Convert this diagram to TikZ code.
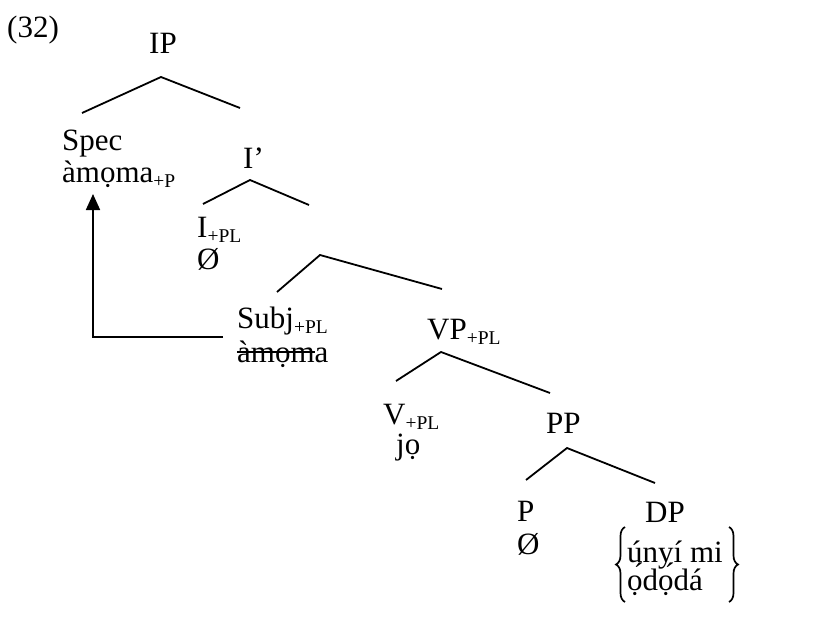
\documentclass[tikz,border=0pt]{standalone}
\usepackage{fontspec}
\setmainfont{Liberation Serif}
\usetikzlibrary{arrows.meta,decorations.pathreplacing}
\newcommand\subsc[1]{\raisebox{-0.17em}{\fontsize{19.5}{19.5}\selectfont #1}}
\newcommand\strk[1]{\setbox0\hbox{#1}\rlap{\rule[0.3em]{\wd0}{0.07em}}\box0}
\begin{document}
\begin{tikzpicture}[x=1pt,y=-1pt,
  lbl/.style={anchor=base west, inner sep=0pt, font=\fontsize{31}{33}\selectfont},
  br/.style={line width=1.8pt, line join=miter},
  curly/.style={line width=1.7pt, decorate, decoration={brace, amplitude=9pt}}]
\useasboundingbox (0,0) rectangle (827,634);
% labels
\node[lbl] (ex) at (7,38) {(32)};
\node[lbl] (ip) at (149,54) {IP};
\node[lbl] (spec) at (62,150) {Spec};
\node[lbl] (specw) at (62,182) {àmọma\subsc{+P}};
\node[lbl] (ibar) at (243,168) {I’};
\node[lbl] (infl) at (197,237) {I\subsc{+PL}};
\node[lbl] (inflw) at (197,269) {Ø};
\node[lbl] (subj) at (237,328) {Subj\subsc{+PL}};
\node[lbl] (subjw) at (237,362) {\strk{àmọm}a};
\node[lbl] (vp) at (427,339) {VP\subsc{+PL}};
\node[lbl] (v) at (383,424) {V\subsc{+PL}};
\node[lbl] (vw) at (396,454) {jọ};
\node[lbl] (pp) at (546,433) {PP};
\node[lbl] (p) at (517,521) {P};
\node[lbl] (pw) at (517,554) {Ø};
\node[lbl] (dp) at (645,522) {DP};
\node[lbl] (dpw1) at (627,562) {únyí mi};
\node[lbl] (dpw2) at (627,590) {ọ́dọ́dá};
% braces
\coordinate (lbT) at (625,527); \coordinate (lbB) at (625,602);
\coordinate (rbT) at (729,527); \coordinate (rbB) at (729,602);
\draw[curly] (lbB) -- (lbT);
\draw[curly] (rbT) -- (rbB);
% branches
\coordinate (ipA) at (161,77); \coordinate (ipL) at (82,113); \coordinate (ipR) at (240,108);
\coordinate (ibA) at (250,180); \coordinate (ibL) at (203,204); \coordinate (ibR) at (309,205);
\coordinate (xA) at (320,255); \coordinate (xL) at (277,292); \coordinate (xR) at (442,289);
\coordinate (vpA) at (441,352); \coordinate (vpL) at (396,381); \coordinate (vpR) at (550,393);
\coordinate (ppA) at (567,448); \coordinate (ppL) at (526,480); \coordinate (ppR) at (655,483);
\draw[br] (ipL) -- (ipA) -- (ipR);
\draw[br] (ibL) -- (ibA) -- (ibR);
\draw[br] (xL) -- (xA) -- (xR);
\draw[br] (vpL) -- (vpA) -- (vpR);
\draw[br] (ppL) -- (ppA) -- (ppR);
% movement arrow
\coordinate (mvS) at (223,337);
\coordinate (mvC) at (93,337);
\coordinate (mvT) at (93,194);
\draw[br, -{Triangle[width=14pt,length=16pt]}] (mvS) -- (mvC) -- (mvT);
\end{tikzpicture}
\end{document}
